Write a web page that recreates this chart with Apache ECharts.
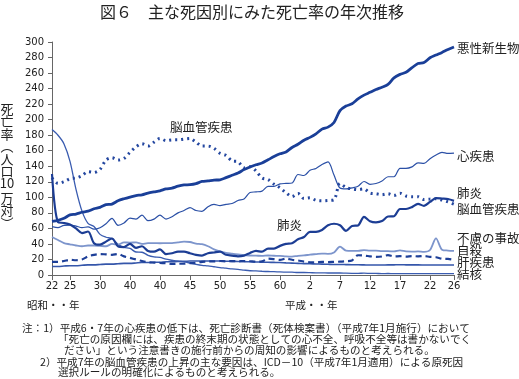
<!DOCTYPE html>
<html><head><meta charset="utf-8">
<script src="https://cdn.jsdelivr.net/npm/echarts@6/dist/echarts.min.js"></script>
<style>html,body{margin:0;padding:0;background:#fff}#c{width:519px;height:379px}</style>
</head><body><div id="c"></div>
<script>
// categories (years 1947-2014)
const years = [1947,1948,1949,1950,1951,1952,1953,1954,1955,1956,1957,1958,1959,1960,1961,1962,1963,1964,1965,1966,
  1967,1968,1969,1970,1971,1972,1973,1974,1975,1976,1977,1978,1979,1980,1981,1982,1983,1984,1985,1986,
  1987,1988,1989,1990,1991,1992,1993,1994,1995,1996,1997,1998,1999,2000,2001,2002,2003,2004,2005,2006,
  2007,2008,2009,2010,2011,2012,2013,2014];
// tick positions and their labels (昭和/平成 years)
const tickYears  = [1947,1950,1955,1960,1965,1970,1975,1980,1985,1990,1995,2000,2005,2010,2014];
const tickLabels = ['22','25','30','40','40','45','50','55','60','2','7','12','17','22','26'];

// series values (per 100,000)
const cancer = [69.0,70.4,73.0,77.4,78.5,80.8,82.2,85.3,87.1,90.5,91.3,95.5,98.2,100.4,102.3,103.2,105.5,107.0,108.4,110.8,
  111.9,114.3,115.9,116.3,117.7,120.4,121.2,122.2,122.6,125.3,128.4,131.3,135.7,139.1,142.0,144.2,148.3,152.5,156.1,158.5,
  164.2,168.4,173.6,177.2,181.7,187.8,190.4,196.4,211.6,217.5,220.4,226.7,231.6,235.2,238.8,241.7,245.4,253.9,258.3,261.0,
  266.9,272.3,273.5,279.7,283.2,286.6,290.3,293.5];
const heart = [62.2,61.0,64.0,64.2,63.0,61.0,62.0,59.0,60.9,66.0,73.0,64.0,67.0,73.2,72.0,77.0,70.0,72.0,77.0,72.0,
  75.0,80.0,83.0,86.7,83.0,82.0,88.0,91.0,89.2,91.0,92.0,96.0,98.0,106.2,107.0,108.0,114.0,114.0,117.3,117.9,
  118.4,129.4,128.1,134.8,137.2,142.2,145.6,128.6,112.0,110.8,112.2,114.3,120.4,116.8,117.8,121.0,126.5,126.5,137.2,137.2,
  139.2,144.4,143.7,149.8,154.5,157.9,156.5,157.0];
const pneumonia = [130,68,67,65,60,54,56,41,39,43,47,37,36,40,35,37,31,30,33,27,
  28,30,30,28,26,25,28,29,30,26,25,24,25,28.4,31,30,34,34,37.5,40,
  41,46,49,55.6,55.5,58,64,66,64.1,56.9,63.1,63.8,74.9,69.2,67.8,69.4,75.3,75.7,85.0,85.0,
  87.4,91.6,89.0,94.1,98.9,98.4,97.8,95.4];
const cerebro = [125,118,120,124,125,128,133,132,136,148,151,148,150,158,165,169,166,171,175.8,173,
  174,174,175,175.8,171,166,166,163,156.7,154,147,146,138,139.5,134,125,123,117,112.2,106,
  101,105,98.5,99.4,96.2,95.6,96.0,96.9,117.9,112.6,111.0,110.0,110.8,105.5,104.7,103.4,104.7,102.3,105.3,101.7,
  100.8,100.9,97.2,97.7,98.2,96.5,94.1,91.1];
const accident = [49,45,41,39.5,38,37,38,38,37.5,37,40,39,42,41.7,42,40,41,41,40.9,41,
  41,42,43,42.5,40.5,39.7,37,33,30.3,28.5,27.5,26.5,25.5,25.1,24.9,24.6,25.1,24.8,24.6,23.9,
  23.6,24.7,25.2,26.2,26.9,27.6,27.2,29.1,36.5,31.4,31.1,31.1,32.0,31.4,31.4,30.7,30.7,30.3,31.6,30.3,
  30.1,30.3,29.8,32.2,47.1,32.6,31.5,31.1];
const suicide = [17,17,18,19.6,19,20,24,26,27,26.5,26,27,24,22,20,18,16.5,16,15.5,15.2,
  14.2,14.5,14.5,15.3,15.6,17.0,17.4,17.5,18.0,17.6,17.9,17.6,18.0,17.7,17.1,17.5,21.0,20.4,19.4,21.2,
  19.6,18.7,17.3,16.4,16.1,16.9,16.6,16.9,17.2,17.8,18.8,25.4,25.0,24.1,23.3,23.8,25.5,24.0,24.2,23.7,
  24.4,24.0,24.4,23.4,22.9,21.0,20.7,19.5];
const liver = [11,11,11.5,12,12,12.5,13,13,13.5,14,14,14.5,15,15,15.5,16,16,16.5,16.5,17,
  17,17.5,17.5,18,18,18,18,18,18,17.8,17.6,17.4,17.2,17,16.8,16.6,16.4,16.2,16,15.6,
  15.3,15,14.7,14.5,14.2,14,13.8,13.6,13.6,13.4,13.2,13.2,13.0,12.8,12.8,12.9,13.0,13.1,13.2,13.1,
  13.0,13.0,12.9,12.8,12.9,12.8,12.8,12.8];
const tb = [187.2,179.9,168.8,146.4,110.3,82.2,66.5,62.4,52.3,48.6,46.9,39.5,35.5,34.2,29.6,29.3,25.4,23.4,22.8,20.3,
  19.0,17.8,16.9,15.4,13.8,12.5,11.8,10.6,9.5,8.8,7.8,7.2,6.3,5.5,5.2,4.8,4.5,4.4,3.9,3.8,
  3.6,3.2,3.2,3.0,2.7,2.8,2.6,2.6,2.6,2.3,2.2,2.2,2.3,2.1,2.0,1.8,1.9,1.8,1.8,1.8,
  1.7,1.8,1.7,1.7,1.7,1.7,1.7,1.7];

const seriesNames = ['悪性新生物','心疾患','肺炎','脳血管疾患','不慮の事故','自殺','肝疾患','結核'];
const yTitleChars = ['死','亡','率','︵','人','口','10','万','対','︶'];

const chart = echarts.init(document.getElementById('c'), null, {renderer:'canvas'});
const JP = '"Noto Sans CJK JP", sans-serif';
const NUM = '"DejaVu Sans", sans-serif';
const tickSet = new Set(tickYears);

function line(name, data, color, width, type, z) {
  return {name, type:'line', data, showSymbol:false, symbol:'none', smooth:0.3, z: z||2,
    lineStyle:{color, width, type: type||'solid', cap:'butt'}, emphasis:{disabled:true}, animation:false};
}

const txt = (text, x, y, size, align, vAlign) => ({
  type:'text', x, y, silent:true,
  style:{text, font: size+'px '+JP, fill:'#222', textAlign:align||'left', textVerticalAlign:vAlign||'middle'}
});

const yTitle = yTitleChars.map((c, i) => txt(c, 7, 109 + i * 12.4 + (i >= 7 ? 2 : 0), 13, 'center'));

chart.setOption({
  animation:false,
  grid:{left:52, right:65, top:42, bottom:104, containLabel:false},
  xAxis:{type:'category', data:years, boundaryGap:false,
    axisLine:{lineStyle:{color:'#666', width:1}},
    axisTick:{show:true, inside:false, length:5, lineStyle:{color:'#666'},
      interval:(i, v)=>tickSet.has(+v)},
    axisLabel:{interval:(i, v)=>tickSet.has(+v), margin:6, color:'#222', fontFamily:NUM, fontSize:10,
      formatter:(v)=>tickLabels[tickYears.indexOf(+v)]},
    splitLine:{show:false}},
  yAxis:{type:'value', min:0, max:300, interval:20,
    axisLine:{show:true, lineStyle:{color:'#666', width:1}},
    axisTick:{show:true, length:4, lineStyle:{color:'#666'}},
    axisLabel:{margin:8, color:'#222', fontFamily:NUM, fontSize:10},
    splitLine:{show:false}},
  series:[
    line(seriesNames[7], tb, '#3a5cb0', 1.3),
    line(seriesNames[6], liver, '#3556aa', 1.6),
    line(seriesNames[4], accident, '#7d95cc', 1.8),
    line(seriesNames[5], suicide, '#1d3f98', 2.2, [6,4]),
    line(seriesNames[1], heart, '#2b50a6', 1.2),
    line(seriesNames[3], cerebro, '#2447a0', 3, [2,4]),
    line(seriesNames[2], pneumonia, '#1c3d94', 2.2, 'solid', 3),
    line(seriesNames[0], cancer, '#1a3f98', 2.8, 'solid', 4)
  ],
  graphic:[
    txt('図６　主な死因別にみた死亡率の年次推移', 252, 12, 16, 'center'),
    ...yTitle,
    txt('悪性新生物', 457, 48, 12.5),
    txt('心疾患', 457, 156, 12.5),
    txt('肺炎', 457, 193, 12.5),
    txt('脳血管疾患', 457, 209, 12.5),
    txt('不慮の事故', 457, 238, 12.5),
    txt('自殺', 457, 250, 12.5),
    txt('肝疾患', 457, 262, 12.5),
    txt('結核', 457, 274, 12.5),
    txt('脳血管疾患', 170, 127, 12.5),
    txt('肺炎', 277, 225, 12.5),
    txt('昭和・・年', 27, 305, 10.5),
    txt('平成・・年', 285, 305, 10.5),
    txt('注：1）平成6・7年の心疾患の低下は、死亡診断書（死体検案書）（平成7年1月施行）において', 22, 328, 10.6),
    txt('「死亡の原因欄には、疾患の終末期の状態としての心不全、呼吸不全等は書かないでく', 58, 339, 10.6),
    txt('ださい」という注意書きの施行前からの周知の影響によるものと考えられる。', 64, 350, 10.6),
    txt('2）平成7年の脳血管疾患の上昇の主な要因は、ICD－10（平成7年1月適用）による原死因', 40, 362, 10.6),
    txt('選択ルールの明確化によるものと考えられる。', 58, 372, 10.6)
  ]
});
</script></body></html>
